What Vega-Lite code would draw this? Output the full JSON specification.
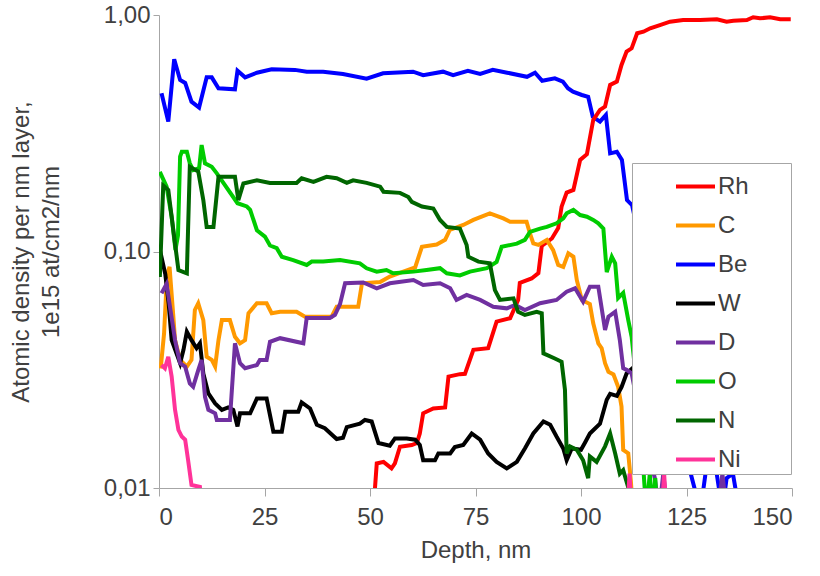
{
"$schema":"https://vega.github.io/schema/vega-lite/v6.json",
"width":633,"height":473,
"autosize":"none",
"padding":{"left":159,"top":15,"right":28,"bottom":88},
"background":"white",
"config":{"view":{"stroke":null},
"axis":{"grid":false,"domainColor":"#a6a6a6","tickColor":"#a6a6a6","labelFont":"Liberation Sans","labelFontSize":24,"labelColor":"#404040","titleFont":"Liberation Sans","titleFontSize":24,"titleFontWeight":"normal","titleColor":"#404040"}},
"data":{"values":[
{"s":"Be","d":0.6,"v":0.467},{"s":"Be","d":2.2,"v":0.354},{"s":"Be","d":3.6,"v":0.65},{"s":"Be","d":5.0,"v":0.531},{"s":"Be","d":6.2,"v":0.516},{"s":"Be","d":7.7,"v":0.43},{"s":"Be","d":9.5,"v":0.406},{"s":"Be","d":11.3,"v":0.545},{"s":"Be","d":12.5,"v":0.545},{"s":"Be","d":14.1,"v":0.49},{"s":"Be","d":18.0,"v":0.485},{"s":"Be","d":18.6,"v":0.581},{"s":"Be","d":20.4,"v":0.545},{"s":"Be","d":23.2,"v":0.57},{"s":"Be","d":26.7,"v":0.589},{"s":"Be","d":32.2,"v":0.586},{"s":"Be","d":35,"v":0.575},{"s":"Be","d":38.9,"v":0.576},{"s":"Be","d":43.6,"v":0.563},{"s":"Be","d":49.2,"v":0.538},{"s":"Be","d":53.1,"v":0.567},{"s":"Be","d":60.2,"v":0.576},{"s":"Be","d":62.6,"v":0.557},{"s":"Be","d":67.3,"v":0.576},{"s":"Be","d":69.7,"v":0.557},{"s":"Be","d":73.2,"v":0.581},{"s":"Be","d":76.1,"v":0.563},{"s":"Be","d":79.1,"v":0.586},{"s":"Be","d":82.5,"v":0.57},{"s":"Be","d":87.2,"v":0.548},{"s":"Be","d":89.1,"v":0.57},{"s":"Be","d":90.8,"v":0.527},{"s":"Be","d":93.8,"v":0.54},{"s":"Be","d":95.7,"v":0.523},{"s":"Be","d":96.9,"v":0.49},{"s":"Be","d":98.1,"v":0.474},{"s":"Be","d":100.2,"v":0.459},{"s":"Be","d":101.7,"v":0.451},{"s":"Be","d":102.8,"v":0.371},{"s":"Be","d":104.5,"v":0.354},{"s":"Be","d":105.9,"v":0.378},{"s":"Be","d":106.9,"v":0.26},{"s":"Be","d":108.5,"v":0.264},{"s":"Be","d":109.7,"v":0.244},{"s":"Be","d":110.9,"v":0.165},{"s":"Be","d":112.1,"v":0.157},{"s":"Be","d":114,"v":0.11},{"s":"Be","d":116,"v":0.07},{"s":"Be","d":118,"v":0.04},{"s":"Be","d":120,"v":0.025},{"s":"Be","d":122,"v":0.017},{"s":"Be","d":124,"v":0.013},{"s":"Be","d":126,"v":0.0115},{"s":"Be","d":128.3,"v":0.008},{"s":"Be","d":129.5,"v":0.0115},{"s":"Be","d":132,"v":0.012},{"s":"Be","d":133.5,"v":0.008},{"s":"Be","d":134.5,"v":0.011},{"s":"Be","d":136,"v":0.0115},{"s":"Be","d":137.5,"v":0.008},{"s":"Be","d":139,"v":0.006},
{"s":"Rh","d":50.6,"v":0.007},{"s":"Rh","d":51.2,"v":0.0101},{"s":"Rh","d":51.6,"v":0.0127},{"s":"Rh","d":53.2,"v":0.0129},{"s":"Rh","d":55.1,"v":0.0121},{"s":"Rh","d":55.9,"v":0.0127},{"s":"Rh","d":57.1,"v":0.01495},{"s":"Rh","d":59.9,"v":0.0152},{"s":"Rh","d":61.1,"v":0.0155},{"s":"Rh","d":61.8,"v":0.017},{"s":"Rh","d":62.6,"v":0.0207},{"s":"Rh","d":65.0,"v":0.0217},{"s":"Rh","d":67.8,"v":0.0219},{"s":"Rh","d":68.6,"v":0.0296},{"s":"Rh","d":71.3,"v":0.0303},{"s":"Rh","d":72.5,"v":0.0304},{"s":"Rh","d":74.5,"v":0.0384},{"s":"Rh","d":78.0,"v":0.039},{"s":"Rh","d":80.0,"v":0.0505},{"s":"Rh","d":83.2,"v":0.0522},{"s":"Rh","d":85.1,"v":0.0624},{"s":"Rh","d":85.5,"v":0.0736},{"s":"Rh","d":88.3,"v":0.0769},{"s":"Rh","d":89.9,"v":0.081},{"s":"Rh","d":90.7,"v":0.1055},{"s":"Rh","d":93.1,"v":0.1135},{"s":"Rh","d":94.6,"v":0.1257},{"s":"Rh","d":95.4,"v":0.1547},{"s":"Rh","d":96.6,"v":0.1776},{"s":"Rh","d":98.2,"v":0.182},{"s":"Rh","d":99.8,"v":0.244},{"s":"Rh","d":101.4,"v":0.258},{"s":"Rh","d":102.9,"v":0.36},{"s":"Rh","d":104.5,"v":0.397},{"s":"Rh","d":105.7,"v":0.41},{"s":"Rh","d":106.9,"v":0.506},{"s":"Rh","d":108.5,"v":0.523},{"s":"Rh","d":109.6,"v":0.615},{"s":"Rh","d":110.8,"v":0.7},{"s":"Rh","d":112.0,"v":0.723},{"s":"Rh","d":113.3,"v":0.837},{"s":"Rh","d":114.8,"v":0.85},{"s":"Rh","d":116.4,"v":0.879},{"s":"Rh","d":118.7,"v":0.907},{"s":"Rh","d":121.1,"v":0.937},{"s":"Rh","d":124.2,"v":0.952},{"s":"Rh","d":128.2,"v":0.952},{"s":"Rh","d":132.2,"v":0.959},{"s":"Rh","d":134.5,"v":0.937},{"s":"Rh","d":136.1,"v":0.946},{"s":"Rh","d":139.3,"v":0.952},{"s":"Rh","d":140.8,"v":0.978},{"s":"Rh","d":142.4,"v":0.968},{"s":"Rh","d":144.8,"v":0.978},{"s":"Rh","d":147.2,"v":0.959},{"s":"Rh","d":149.7,"v":0.959},
{"s":"C","d":0.4,"v":0.032},{"s":"C","d":1.2,"v":0.045},{"s":"C","d":1.9,"v":0.08},{"s":"C","d":2.5,"v":0.086},{"s":"C","d":3.4,"v":0.053},{"s":"C","d":3.8,"v":0.0422},{"s":"C","d":5.0,"v":0.0348},{"s":"C","d":6.6,"v":0.0326},{"s":"C","d":7.7,"v":0.0348},{"s":"C","d":8.5,"v":0.0566},{"s":"C","d":9.3,"v":0.0604},{"s":"C","d":10.5,"v":0.0513},{"s":"C","d":11.3,"v":0.0359},{"s":"C","d":12.5,"v":0.0348},{"s":"C","d":13.3,"v":0.0326},{"s":"C","d":14.1,"v":0.0422},{"s":"C","d":14.9,"v":0.0513},{"s":"C","d":16.8,"v":0.0513},{"s":"C","d":18.0,"v":0.0436},{"s":"C","d":19.2,"v":0.0409},{"s":"C","d":20.4,"v":0.0422},{"s":"C","d":21.2,"v":0.0548},{"s":"C","d":23.2,"v":0.0604},{"s":"C","d":25.5,"v":0.0604},{"s":"C","d":26.7,"v":0.0548},{"s":"C","d":28.7,"v":0.0556},{"s":"C","d":32.6,"v":0.0556},{"s":"C","d":34.6,"v":0.053},{"s":"C","d":40.9,"v":0.053},{"s":"C","d":42.1,"v":0.0584},{"s":"C","d":47.2,"v":0.0584},{"s":"C","d":48.1,"v":0.0734},{"s":"C","d":52.4,"v":0.0743},{"s":"C","d":54.7,"v":0.0784},{"s":"C","d":57.9,"v":0.0822},{"s":"C","d":60.7,"v":0.0857},{"s":"C","d":62.3,"v":0.1047},{"s":"C","d":65.8,"v":0.107},{"s":"C","d":67.8,"v":0.112},{"s":"C","d":68.9,"v":0.1233},{"s":"C","d":72.1,"v":0.1295},{"s":"C","d":74.5,"v":0.136},{"s":"C","d":78.4,"v":0.145},{"s":"C","d":81.6,"v":0.138},{"s":"C","d":83.2,"v":0.1336},{"s":"C","d":87.1,"v":0.1336},{"s":"C","d":87.9,"v":0.1194},{"s":"C","d":88.7,"v":0.1083},{"s":"C","d":89.9,"v":0.1066},{"s":"C","d":91.9,"v":0.112},{"s":"C","d":93.4,"v":0.1014},{"s":"C","d":94.6,"v":0.0877},{"s":"C","d":95.8,"v":0.086},{"s":"C","d":97.0,"v":0.0982},{"s":"C","d":98.2,"v":0.095},{"s":"C","d":99.0,"v":0.0758},{"s":"C","d":100.2,"v":0.0624},{"s":"C","d":102.1,"v":0.06},{"s":"C","d":102.9,"v":0.0497},{"s":"C","d":104.1,"v":0.0409},{"s":"C","d":104.9,"v":0.039},{"s":"C","d":105.7,"v":0.0337},{"s":"C","d":106.5,"v":0.031},{"s":"C","d":107.7,"v":0.0302},{"s":"C","d":108.8,"v":0.0268},{"s":"C","d":109.6,"v":0.0221},{"s":"C","d":110.0,"v":0.0145},{"s":"C","d":111.2,"v":0.014},{"s":"C","d":111.8,"v":0.0108},{"s":"C","d":112.3,"v":0.008},
{"s":"W","d":0.3,"v":0.1},{"s":"W","d":1.5,"v":0.08},{"s":"W","d":2.3,"v":0.06},{"s":"W","d":3.0,"v":0.0422},{"s":"W","d":5.0,"v":0.0337},{"s":"W","d":5.8,"v":0.0384},{"s":"W","d":6.6,"v":0.0458},{"s":"W","d":7.7,"v":0.0422},{"s":"W","d":8.9,"v":0.039},{"s":"W","d":9.7,"v":0.0409},{"s":"W","d":10.5,"v":0.0305},{"s":"W","d":11.7,"v":0.0251},{"s":"W","d":13.3,"v":0.0228},{"s":"W","d":14.9,"v":0.0214},{"s":"W","d":16.4,"v":0.0219},{"s":"W","d":17.6,"v":0.0214},{"s":"W","d":18.6,"v":0.0182},{"s":"W","d":19.2,"v":0.0207},{"s":"W","d":21.6,"v":0.0207},{"s":"W","d":23.2,"v":0.0239},{"s":"W","d":25.5,"v":0.0239},{"s":"W","d":27.1,"v":0.0173},{"s":"W","d":29.1,"v":0.0173},{"s":"W","d":29.9,"v":0.021},{"s":"W","d":33.0,"v":0.021},{"s":"W","d":33.8,"v":0.023},{"s":"W","d":35.8,"v":0.0217},{"s":"W","d":37.4,"v":0.0185},{"s":"W","d":39.3,"v":0.0179},{"s":"W","d":42.1,"v":0.0161},{"s":"W","d":43.6,"v":0.0163},{"s":"W","d":44.5,"v":0.0181},{"s":"W","d":47.6,"v":0.0187},{"s":"W","d":48.8,"v":0.0194},{"s":"W","d":50.4,"v":0.0191},{"s":"W","d":52.0,"v":0.0155},{"s":"W","d":54.7,"v":0.0151},{"s":"W","d":55.9,"v":0.0162},{"s":"W","d":58.7,"v":0.0162},{"s":"W","d":60.7,"v":0.016},{"s":"W","d":61.8,"v":0.0152},{"s":"W","d":62.6,"v":0.0131},{"s":"W","d":65.4,"v":0.0131},{"s":"W","d":66.2,"v":0.014},{"s":"W","d":69.0,"v":0.014},{"s":"W","d":70.1,"v":0.0149},{"s":"W","d":72.1,"v":0.0152},{"s":"W","d":74.1,"v":0.017},{"s":"W","d":76.1,"v":0.016},{"s":"W","d":78.0,"v":0.014},{"s":"W","d":80.0,"v":0.0129},{"s":"W","d":82.4,"v":0.0121},{"s":"W","d":84.8,"v":0.0129},{"s":"W","d":86.7,"v":0.0147},{"s":"W","d":88.7,"v":0.017},{"s":"W","d":91.1,"v":0.0191},{"s":"W","d":92.7,"v":0.0185},{"s":"W","d":94.2,"v":0.0165},{"s":"W","d":95.8,"v":0.0147},{"s":"W","d":96.6,"v":0.0131},{"s":"W","d":97.8,"v":0.0147},{"s":"W","d":100.0,"v":0.0145},{"s":"W","d":100.9,"v":0.0155},{"s":"W","d":102.1,"v":0.017},{"s":"W","d":104.5,"v":0.0187},{"s":"W","d":106.1,"v":0.0236},{"s":"W","d":106.9,"v":0.025},{"s":"W","d":108.5,"v":0.0245},{"s":"W","d":109.6,"v":0.0267},{"s":"W","d":110.8,"v":0.0305},{"s":"W","d":113,"v":0.033},
{"s":"D","d":0.6,"v":0.0666},{"s":"D","d":1.8,"v":0.0729},{"s":"D","d":2.6,"v":0.0584},{"s":"D","d":3.8,"v":0.0422},{"s":"D","d":5.0,"v":0.0337},{"s":"D","d":6.2,"v":0.0326},{"s":"D","d":7.3,"v":0.0277},{"s":"D","d":8.1,"v":0.0268},{"s":"D","d":9.3,"v":0.0315},{"s":"D","d":10.1,"v":0.0348},{"s":"D","d":10.9,"v":0.0243},{"s":"D","d":11.7,"v":0.0214},{"s":"D","d":13.3,"v":0.0207},{"s":"D","d":13.7,"v":0.0194},{"s":"D","d":16.8,"v":0.0194},{"s":"D","d":18.0,"v":0.0409},{"s":"D","d":19.2,"v":0.0337},{"s":"D","d":20.4,"v":0.0321},{"s":"D","d":23.2,"v":0.0331},{"s":"D","d":23.9,"v":0.0348},{"s":"D","d":25.5,"v":0.0348},{"s":"D","d":26.3,"v":0.0415},{"s":"D","d":28.7,"v":0.043},{"s":"D","d":34.2,"v":0.0409},{"s":"D","d":35.0,"v":0.0524},{"s":"D","d":40.5,"v":0.0524},{"s":"D","d":41.7,"v":0.054},{"s":"D","d":42.9,"v":0.06},{"s":"D","d":44.1,"v":0.0734},{"s":"D","d":48.4,"v":0.074},{"s":"D","d":51.6,"v":0.0699},{"s":"D","d":54.7,"v":0.0734},{"s":"D","d":60.3,"v":0.0758},{"s":"D","d":62.6,"v":0.0722},{"s":"D","d":66.6,"v":0.0734},{"s":"D","d":69.0,"v":0.0699},{"s":"D","d":70.5,"v":0.0624},{"s":"D","d":72.9,"v":0.0655},{"s":"D","d":76.1,"v":0.0624},{"s":"D","d":79.2,"v":0.0584},{"s":"D","d":82.4,"v":0.0575},{"s":"D","d":84.4,"v":0.0594},{"s":"D","d":86.7,"v":0.0566},{"s":"D","d":90.3,"v":0.0604},{"s":"D","d":94.2,"v":0.0624},{"s":"D","d":96.6,"v":0.0676},{"s":"D","d":98.6,"v":0.0699},{"s":"D","d":100.5,"v":0.0614},{"s":"D","d":102.1,"v":0.071},{"s":"D","d":104.1,"v":0.071},{"s":"D","d":105.7,"v":0.0466},{"s":"D","d":106.5,"v":0.053},{"s":"D","d":108.1,"v":0.0556},{"s":"D","d":109.2,"v":0.0422},{"s":"D","d":110.0,"v":0.0321},{"s":"D","d":110.8,"v":0.0316},{"s":"D","d":112.0,"v":0.0305},{"s":"D","d":114,"v":0.02},{"s":"D","d":116,"v":0.014},{"s":"D","d":117.5,"v":0.011},{"s":"D","d":118.5,"v":0.008},{"s":"D","d":119.5,"v":0.0115},{"s":"D","d":120.5,"v":0.008},{"s":"D","d":122,"v":0.006},{"s":"D","d":132.5,"v":0.008},{"s":"D","d":133.5,"v":0.0115},{"s":"D","d":134.5,"v":0.008},{"s":"D","d":135.5,"v":0.006},
{"s":"O","d":0.2,"v":0.217},{"s":"O","d":1.8,"v":0.188},{"s":"O","d":3.0,"v":0.14},{"s":"O","d":3.9,"v":0.1015},{"s":"O","d":4.5,"v":0.117},{"s":"O","d":5.0,"v":0.252},{"s":"O","d":5.4,"v":0.264},{"s":"O","d":6.6,"v":0.264},{"s":"O","d":7.3,"v":0.236},{"s":"O","d":8.1,"v":0.221},{"s":"O","d":9.5,"v":0.225},{"s":"O","d":10.1,"v":0.282},{"s":"O","d":10.9,"v":0.236},{"s":"O","d":12.5,"v":0.228},{"s":"O","d":13.7,"v":0.214},{"s":"O","d":18.6,"v":0.16},{"s":"O","d":20.8,"v":0.155},{"s":"O","d":21.6,"v":0.15},{"s":"O","d":23.2,"v":0.123},{"s":"O","d":25.1,"v":0.1156},{"s":"O","d":26.3,"v":0.106},{"s":"O","d":27.9,"v":0.1033},{"s":"O","d":29.1,"v":0.095},{"s":"O","d":31.8,"v":0.092},{"s":"O","d":35.0,"v":0.0877},{"s":"O","d":36.2,"v":0.0907},{"s":"O","d":38.9,"v":0.0907},{"s":"O","d":42.9,"v":0.092},{"s":"O","d":47.6,"v":0.0891},{"s":"O","d":49.2,"v":0.0849},{"s":"O","d":51.6,"v":0.0822},{"s":"O","d":53.9,"v":0.0835},{"s":"O","d":55.5,"v":0.0809},{"s":"O","d":60.3,"v":0.0822},{"s":"O","d":63.4,"v":0.0835},{"s":"O","d":66.6,"v":0.085},{"s":"O","d":68.2,"v":0.0809},{"s":"O","d":71.3,"v":0.0792},{"s":"O","d":73.7,"v":0.0822},{"s":"O","d":77.7,"v":0.085},{"s":"O","d":80.0,"v":0.0903},{"s":"O","d":81.2,"v":0.1047},{"s":"O","d":84.8,"v":0.108},{"s":"O","d":86.7,"v":0.112},{"s":"O","d":87.9,"v":0.121},{"s":"O","d":90.3,"v":0.125},{"s":"O","d":91.9,"v":0.127},{"s":"O","d":94.2,"v":0.1316},{"s":"O","d":95.8,"v":0.138},{"s":"O","d":96.6,"v":0.145},{"s":"O","d":98.2,"v":0.15},{"s":"O","d":99.8,"v":0.1426},{"s":"O","d":101.4,"v":0.1403},{"s":"O","d":102.9,"v":0.136},{"s":"O","d":104.1,"v":0.1316},{"s":"O","d":105.3,"v":0.125},{"s":"O","d":106.1,"v":0.0819},{"s":"O","d":107.3,"v":0.095},{"s":"O","d":108.1,"v":0.0891},{"s":"O","d":108.8,"v":0.0636},{"s":"O","d":110.0,"v":0.0668},{"s":"O","d":111.2,"v":0.0513},{"s":"O","d":112.0,"v":0.0436},{"s":"O","d":114,"v":0.02},{"s":"O","d":115,"v":0.0105},{"s":"O","d":115.5,"v":0.008},{"s":"O","d":116.3,"v":0.0115},{"s":"O","d":117,"v":0.008},{"s":"O","d":117.6,"v":0.011},{"s":"O","d":118.2,"v":0.007},
{"s":"N","d":0.2,"v":0.078},{"s":"N","d":1.0,"v":0.19},{"s":"N","d":2.2,"v":0.182},{"s":"N","d":3.4,"v":0.123},{"s":"N","d":4.6,"v":0.0835},{"s":"N","d":6.6,"v":0.0809},{"s":"N","d":7.3,"v":0.228},{"s":"N","d":9.3,"v":0.218},{"s":"N","d":10.5,"v":0.165},{"s":"N","d":11.3,"v":0.127},{"s":"N","d":12.9,"v":0.127},{"s":"N","d":14.1,"v":0.207},{"s":"N","d":18.0,"v":0.207},{"s":"N","d":18.8,"v":0.165},{"s":"N","d":20.0,"v":0.194},{"s":"N","d":23.2,"v":0.2},{"s":"N","d":26.3,"v":0.195},{"s":"N","d":32.6,"v":0.195},{"s":"N","d":33.8,"v":0.204},{"s":"N","d":36.6,"v":0.197},{"s":"N","d":39.7,"v":0.207},{"s":"N","d":42.1,"v":0.204},{"s":"N","d":44.5,"v":0.195},{"s":"N","d":46.0,"v":0.2},{"s":"N","d":49.2,"v":0.195},{"s":"N","d":52.4,"v":0.188},{"s":"N","d":53.2,"v":0.179},{"s":"N","d":57.1,"v":0.177},{"s":"N","d":59.1,"v":0.17},{"s":"N","d":59.9,"v":0.162},{"s":"N","d":62.3,"v":0.155},{"s":"N","d":65.0,"v":0.152},{"s":"N","d":66.6,"v":0.136},{"s":"N","d":68.2,"v":0.127},{"s":"N","d":71.3,"v":0.125},{"s":"N","d":72.9,"v":0.1065},{"s":"N","d":73.3,"v":0.095},{"s":"N","d":75.7,"v":0.0906},{"s":"N","d":78.4,"v":0.0891},{"s":"N","d":79.6,"v":0.0687},{"s":"N","d":80.8,"v":0.0624},{"s":"N","d":84.0,"v":0.0634},{"s":"N","d":85.1,"v":0.0556},{"s":"N","d":86.7,"v":0.0539},{"s":"N","d":89.5,"v":0.0556},{"s":"N","d":90.7,"v":0.0548},{"s":"N","d":91.1,"v":0.0371},{"s":"N","d":93.8,"v":0.0353},{"s":"N","d":95.4,"v":0.0342},{"s":"N","d":96.2,"v":0.026},{"s":"N","d":96.6,"v":0.014},{"s":"N","d":97.4,"v":0.015},{"s":"N","d":99.0,"v":0.0145},{"s":"N","d":100.5,"v":0.0131},{"s":"N","d":101.7,"v":0.011},{"s":"N","d":102.1,"v":0.0136},{"s":"N","d":103.7,"v":0.0129},{"s":"N","d":105.7,"v":0.015},{"s":"N","d":106.9,"v":0.017},{"s":"N","d":108.1,"v":0.014},{"s":"N","d":109.2,"v":0.0115},{"s":"N","d":110.0,"v":0.0119},{"s":"N","d":111.6,"v":0.0095},{"s":"N","d":112.2,"v":0.007},
{"s":"Ni","d":0.6,"v":0.0331},{"s":"Ni","d":1.4,"v":0.0321},{"s":"Ni","d":2.2,"v":0.0359},{"s":"Ni","d":3.0,"v":0.0296},{"s":"Ni","d":3.8,"v":0.0214},{"s":"Ni","d":4.6,"v":0.0176},{"s":"Ni","d":5.4,"v":0.0165},{"s":"Ni","d":6.2,"v":0.016},{"s":"Ni","d":6.9,"v":0.0131},{"s":"Ni","d":7.7,"v":0.0103},{"s":"Ni","d":9.7,"v":0.0101},{"s":"Ni","d":10.3,"v":0.007},{"s":"Ni","d":110.8,"v":0.007},{"s":"Ni","d":111.5,"v":0.0115},{"s":"Ni","d":112.2,"v":0.007},{"s":"Ni","d":119,"v":0.007},{"s":"Ni","d":119.7,"v":0.0115},{"s":"Ni","d":120.4,"v":0.007}
]},
"mark":{"type":"line","clip":true,"strokeWidth":4},
"encoding":{
"x":{"field":"d","type":"quantitative","scale":{"domain":[0,150],"nice":false,"zero":false},
 "axis":{"values":[0,25,50,75,100,125,150],"tickSize":8,"labelPadding":9,"title":"Depth, nm","titlePadding":9}},
"y":{"field":"v","type":"quantitative","scale":{"type":"log","domain":[0.01,1],"nice":false},
 "axis":{"values":[0.01,0.1,1],"tickSize":6,"labelPadding":3,"labelExpr":"replace(format(datum.value,'.2f'),'.',',')","title":["Atomic density per nm layer,","1e15 at/cm2/nm"],"titleLineHeight":30,"titlePadding":40}},
"color":{"field":"s","type":"nominal",
 "scale":{"domain":["Rh","C","Be","W","D","O","N","Ni"],"range":["#ff0000","#ff9900","#0000ff","#000000","#7030a0","#00cc00","#006600","#ff3399"]},
 "legend":{"orient":"none","legendX":473,"legendY":148,"direction":"vertical","title":" ","titleOrient":"right","titlePadding":40,"fillColor":"white","strokeColor":"#a6a6a6","padding":2,"symbolType":"stroke","symbolSize":1521,"symbolStrokeWidth":4,"symbolOffset":40,"labelOffset":1,"labelFontSize":24,"labelFont":"Liberation Sans","labelColor":"#404040","rowPadding":5,"zindex":1}}
}
}
